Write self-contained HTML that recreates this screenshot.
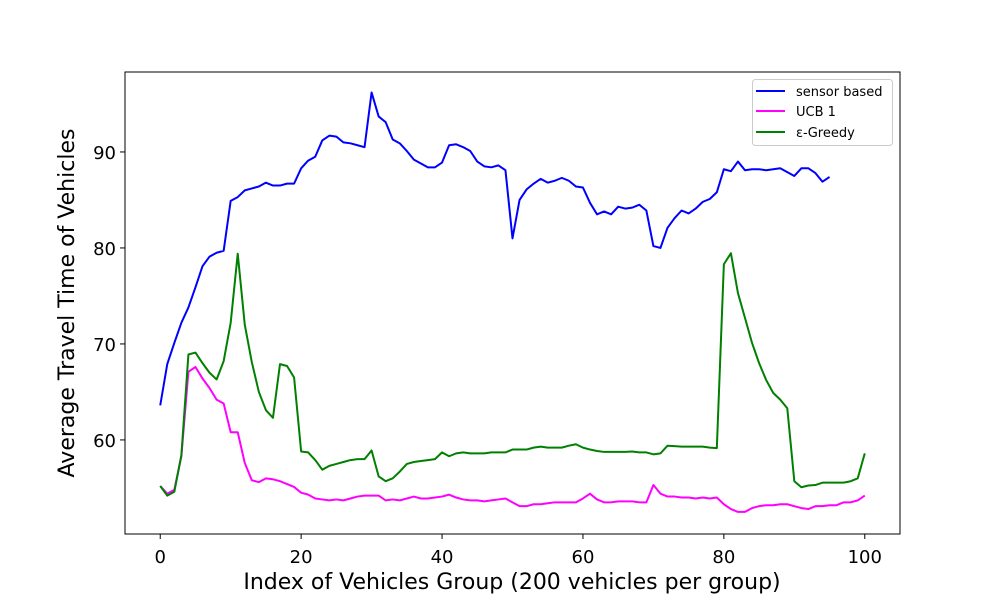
<!DOCTYPE html>
<html><head><meta charset="utf-8"><style>
body{margin:0;background:#fff;}
svg{display:block;font-family:"DejaVu Sans","Liberation Sans",sans-serif;}
</style></head><body>
<svg id="chart" width="1000" height="600">
<rect width="1000" height="600" fill="#fff"/>
<g id="plot"></g>
<g id="axes"></g>
<text x="512" y="589" font-size="22" text-anchor="middle">Index of Vehicles Group (200 vehicles per group)</text>
<text transform="translate(74,303) rotate(-90)" font-size="22" text-anchor="middle">Average Travel Time of Vehicles</text>
<g>
<rect x="752.5" y="79.5" width="140" height="66" rx="3" fill="#fff" stroke="#ccc"/>
<g><line x1="756" y1="91" x2="785" y2="91" stroke="#0000ff" stroke-width="2"/><text x="796" y="96" font-size="13">sensor based</text></g>
<g><line x1="756" y1="111" x2="785" y2="111" stroke="#ff00ff" stroke-width="2"/><text x="796" y="116" font-size="13">UCB 1</text></g>
<g><line x1="756" y1="132" x2="785" y2="132" stroke="#008000" stroke-width="2"/><text x="796" y="137" font-size="13">ε-Greedy</text></g>
</g>
</svg>
<script>
const sensorValues=[63.6,67.9,70.1,72.2,73.8,75.9,78.1,79.1,79.5,79.7,84.9,85.3,86.0,86.2,86.4,86.8,86.5,86.5,86.7,86.7,88.3,89.1,89.5,91.2,91.7,91.6,91.0,90.9,90.7,90.5,96.2,93.7,93.1,91.3,90.9,90.1,89.2,88.8,88.4,88.4,88.9,90.7,90.8,90.5,90.1,89.0,88.5,88.4,88.6,88.1,81.0,85.0,86.1,86.7,87.2,86.8,87.0,87.3,87.0,86.4,86.3,84.7,83.5,83.8,83.5,84.3,84.1,84.2,84.5,83.9,80.2,80.0,82.1,83.1,83.9,83.6,84.1,84.8,85.1,85.8,88.2,88.0,89.0,88.1,88.2,88.2,88.1,88.2,88.3,87.9,87.5,88.3,88.3,87.8,86.9,87.4];
const ucbValues=[55.2,54.4,54.8,58.3,67.1,67.6,66.4,65.4,64.2,63.8,60.8,60.8,57.6,55.8,55.6,56.0,55.9,55.7,55.4,55.1,54.5,54.3,53.9,53.8,53.7,53.8,53.7,53.9,54.1,54.2,54.2,54.2,53.7,53.8,53.7,53.9,54.1,53.9,53.9,54.0,54.1,54.3,54.0,53.8,53.7,53.7,53.6,53.7,53.8,53.9,53.5,53.1,53.1,53.3,53.3,53.4,53.5,53.5,53.5,53.5,53.9,54.4,53.8,53.5,53.5,53.6,53.6,53.6,53.5,53.5,55.3,54.4,54.1,54.1,54.0,54.0,53.9,54.0,53.9,54.0,53.3,52.8,52.5,52.5,52.9,53.1,53.2,53.2,53.3,53.3,53.1,52.9,52.8,53.1,53.1,53.2,53.2,53.5,53.5,53.7,54.2];
const greedyValues=[55.2,54.2,54.6,58.4,68.9,69.1,68.0,67.0,66.3,68.2,72.2,79.4,72.0,68.1,65.0,63.1,62.3,67.9,67.7,66.5,58.8,58.7,57.9,56.9,57.3,57.5,57.7,57.9,58.0,58.0,58.9,56.2,55.7,56.0,56.7,57.5,57.7,57.8,57.9,58.0,58.7,58.3,58.6,58.7,58.6,58.6,58.6,58.7,58.7,58.7,59.0,59.0,59.0,59.2,59.3,59.2,59.2,59.2,59.4,59.55,59.2,59.0,58.85,58.75,58.75,58.75,58.75,58.8,58.7,58.7,58.5,58.6,59.4,59.35,59.3,59.3,59.3,59.3,59.2,59.15,78.3,79.45,75.3,72.7,70.1,68.0,66.25,64.9,64.2,63.3,55.7,55.07,55.25,55.3,55.55,55.55,55.55,55.55,55.7,56.0,58.6];
const xTicks=[0,20,40,60,80,100];
const yTicks=[60,70,80,90];
const L=125,R=900,T=72,B=534;
const xMin=-5,xMax=105,yMin=50.2,yMax=98.33;
function xs(v){return L+(v-xMin)/(xMax-xMin)*(R-L);}
function ys(v){return B-(v-yMin)/(yMax-yMin)*(B-T);}
const NS="http://www.w3.org/2000/svg";
const plot=document.getElementById('plot'),axes=document.getElementById('axes');
function mk(tag,attrs,parent){const e=document.createElementNS(NS,tag);for(const k in attrs)e.setAttribute(k,attrs[k]);parent.appendChild(e);return e;}
function series(vals,color,name){
 const p=mk('polyline',{points:vals.map((v,i)=>xs(i).toFixed(2)+','+ys(v).toFixed(2)).join(' '),fill:'none',stroke:color,'stroke-width':2,'stroke-linejoin':'round'},plot);
 
 
}
series(sensorValues,'#0000ff','sensor-based-line');
series(ucbValues,'#ff00ff','ucb1-line');
series(greedyValues,'#008000','epsilon-greedy-line');
const frame=mk('rect',{x:L,y:T,width:R-L,height:B-T,fill:'none',stroke:'#000','stroke-width':1},axes);


xTicks.forEach(t=>{
 const x=xs(t);
 const l=mk('line',{x1:x,y1:B,x2:x,y2:B+5,stroke:'#000'},axes);
 
 
 const tx=mk('text',{x:x,y:B+29,'font-size':18,'text-anchor':'middle'},axes);
 tx.textContent=t;
 
 
});
yTicks.forEach(t=>{
 const y=ys(t);
 const l=mk('line',{x1:L-5,y1:y,x2:L,y2:y,stroke:'#000'},axes);
 
 
 const tx=mk('text',{x:L-9,y:y+7,'font-size':18,'text-anchor':'end'},axes);
 tx.textContent=t;
 
 
});
</script>
</body></html>
